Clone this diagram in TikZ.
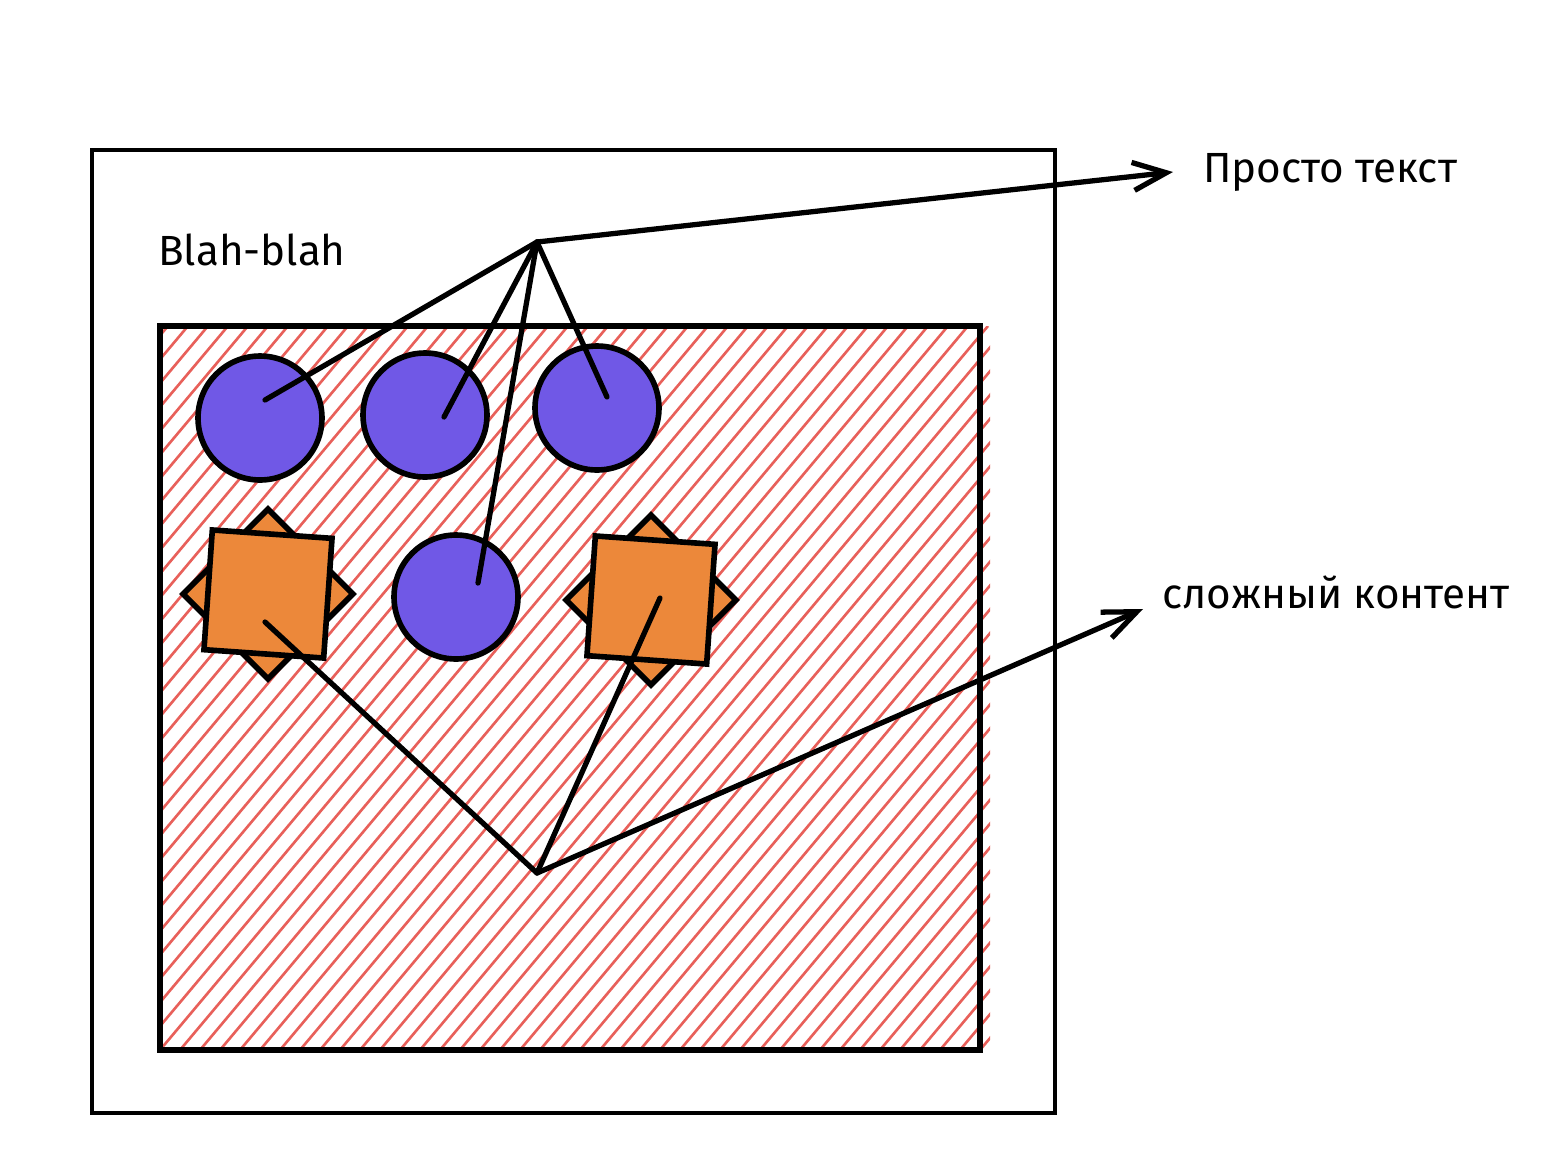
\documentclass[tikz,border=0pt]{standalone}
\usepackage{fontspec}
\setmainfont{Fira Sans}
\usetikzlibrary{arrows.meta, positioning}
\definecolor{viola}{RGB}{112,88,230}
\definecolor{arancio}{RGB}{236,136,58}
\definecolor{righe}{RGB}{232,96,90}
\tikzset{
  bordo/.style={draw=black, line width=3.2pt},
  pallina/.style={circle, draw=black, line width=3.2pt, fill=viola, minimum size=2.48cm, inner sep=0pt},
  quadrato/.style={rectangle, draw=black, line width=3.2pt, fill=arancio, minimum size=2.4cm, inner sep=0pt},
  filo/.style={line width=3pt, line cap=round},
  freccia/.style={line width=3pt, line cap=round, -{Straight Barb[length=19pt, width=16pt, line width=3pt]}},
  etichetta/.style={anchor=west, font=\fontsize{24}{29}\selectfont, inner sep=0pt},
}

\begin{document}
\begin{tikzpicture}[x=0.02cm, y=-0.02cm]
	\useasboundingbox (0,0) rectangle (1556,1174);
	
	% Riquadro esterno
	\draw[bordo, line width=2.7pt] (92,150) rectangle (1055,1113);
	\node[etichetta] (blah) at (158,250) {Blah-blah};
	
	% Riquadro tratteggiato
	\begin{scope}
		\clip (160,326) rectangle (990,1050);
		\foreach \x in {-460,-440,...,1000}
			\draw[righe, line width=1.5pt] (\x,1050) -- ++(608,-724);
	\end{scope}
	\draw[bordo] (160,326) rectangle (980,1050);
	
	% Palline
	\node[pallina] (c1) at (260,418) {};
	\node[pallina] (c2) at (425,415) {};
	\node[pallina] (c3) at (597,408) {};
	\node[pallina] (c4) at (456,597) {};
	
	% Quadrati con rombo dietro
	\node[quadrato, rotate=45] (r1) at (268,594) {};
	\node[quadrato, rotate=-4] (q1) at (268,594) {};
	\node[quadrato, rotate=45] (r2) at (651,600) {};
	\node[quadrato, rotate=-4] (q2) at (651,600) {};
	
	% Punti di raccolta
	\coordinate (sopra) at (537,242);
	\coordinate (sotto) at (537,873);
	
	% Scritte a destra
	\node[etichetta] (testo) at (1203,172) {Просто текст};
	\node[etichetta] (contenuto) at (1162,592) {сложный контент};
	
	% Fili verso le palline
	\draw[filo] (sopra) -- ([shift={(5,-18)}]c1.center);
	\draw[filo] (sopra) -- ([shift={(19,2)}]c2.center);
	\draw[filo] (sopra) -- ([shift={(10,-11)}]c3.center);
	\draw[filo] (sopra) -- ([shift={(22,-14)}]c4.center);
	\draw[freccia] (sopra) -- ([xshift=-0.6cm]testo.west);
	
	% Fili verso i quadrati
	\draw[filo] (sotto) -- ([shift={(-3,28)}]q1.center);
	\draw[filo] (sotto) -- ([shift={(9,-2)}]q2.center);
	\draw[freccia] (sotto) -- ([shift={(-19,17)}]contenuto.west);
	
\end{tikzpicture}
\end{document}
